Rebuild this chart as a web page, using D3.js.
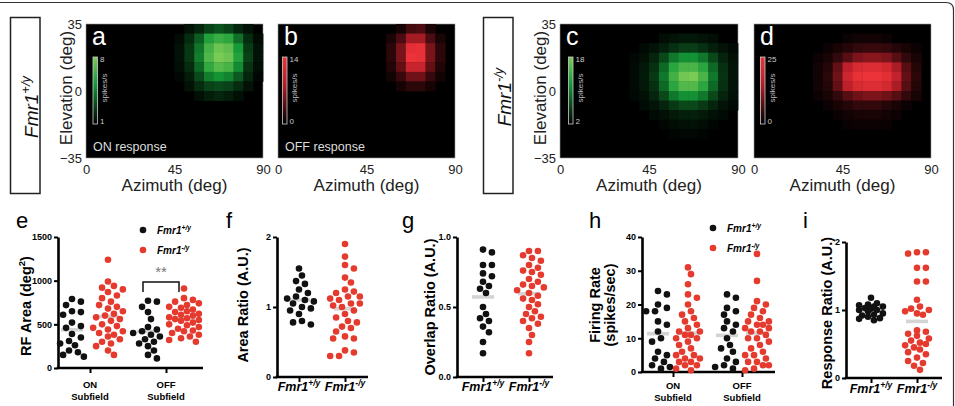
<!DOCTYPE html>
<html>
<head>
<meta charset="utf-8">
<script src="https://cdn.jsdelivr.net/npm/d3@7"></script>
<style>
  body { margin: 0; background: #fff; }
  svg { display: block; }
</style>
</head>
<body>
<svg id="fig" width="955" height="406"></svg>
<script>
// receptive field maps: 14 rows (elevation 35 -> -35), 18 cols (azimuth 0 -> 90)
// each row = [first column, values...]; missing cells sit at the colorbar minimum
const onWt = [
  [10, 1.5, 2, 2.8, 3.2, 2.8, 2, 1.5],
  [9, 1.3, 2.2, 3.5, 5.5, 6.2, 5.8, 4, 2.2, 1.3],
  [9, 1.5, 2.5, 4.2, 6.5, 7.6, 7.2, 5.2, 2.6, 1.5],
  [9, 1.5, 2.5, 4.4, 6.8, 8, 7.6, 5.6, 2.8, 1.5],
  [9, 1.4, 2.2, 3.8, 6, 7, 6.6, 4.8, 2.4, 1.4],
  [9, 1.2, 1.8, 3, 4.4, 5, 4.6, 3.4, 2, 1.2],
  [10, 1.5, 2.2, 2.8, 3, 2.8, 2.2, 1.5],
  [11, 1.4, 1.8, 2, 1.8, 1.4],
];
const offWt = [
  [12, 1, 3, 3.5, 1.2],
  [11, 1.2, 3.5, 7.5, 7.5, 3.5, 1.2],
  [11, 2, 5.5, 13, 13.5, 5.5, 2],
  [11, 2, 5.5, 14, 13.5, 5.5, 2],
  [11, 1.5, 4.5, 10, 10, 4.5, 1.5],
  [11, 0.8, 2.5, 5, 5, 2.5, 0.8],
  [12, 1, 2, 2, 1],
];
const onKo = [
  [],
  [10, 2.8, 3.2, 3.5, 3.5, 3.2, 2.8],
  [8, 2.6, 3.2, 4, 5, 5.8, 5.8, 5, 4, 3.2, 2.6],
  [7, 2.5, 3, 4.2, 6.5, 9.5, 11, 11, 9.5, 6.5, 4.2, 3],
  [7, 2.6, 3.5, 5, 8.5, 13, 15, 15, 13, 8.5, 5, 3.2],
  [7, 2.6, 3.6, 5.5, 9.5, 14.5, 17.5, 18, 15, 9.5, 5.2, 3.2],
  [7, 2.6, 3.5, 5, 8.5, 13, 15.5, 15.5, 13, 8.5, 5, 3.2],
  [7, 2.5, 3, 4.2, 6.5, 9.5, 11, 11, 9.5, 6.5, 4.2, 3],
  [8, 2.6, 3.2, 4.2, 5.5, 6.5, 6.5, 5.5, 4.2, 3.2, 2.6],
  [9, 2.6, 3, 3.6, 4, 4, 3.6, 3, 2.6],
  [10, 2.4, 2.8, 3, 3, 2.8, 2.4],
  [11, 2.3, 2.5, 2.5, 2.3],
];
const offKo = [
  [],
  [9, 1, 1.5, 1.5, 1.5, 1],
  [7, 1, 2, 3, 4, 4.5, 4.5, 4, 3, 2, 1],
  [6, 1, 2, 4, 7, 10, 11, 11, 10, 7, 4, 2],
  [6, 1.5, 3, 8, 16, 21, 22, 22, 20, 14, 7, 3],
  [6, 1.5, 3.5, 9, 19, 24, 25, 25, 23, 17, 8, 3.5],
  [6, 1.5, 3, 8, 16, 21, 22, 22, 20, 14, 7, 3],
  [6, 1, 2, 4, 7, 9, 10, 10, 9, 7, 4, 2],
  [7, 1, 2, 3, 4, 4, 4, 3, 2, 1],
  [8, 1, 1.5, 2, 2, 2, 1.5, 1],
  [9, 0.8, 1, 1, 1, 0.8],
];

// scatter data (one value per cell)
const rfOnWt = [790, 760, 720, 650, 640, 610, 520, 480, 460, 390, 350, 310, 280, 260, 200, 180, 150, 130];
const rfOnKo = [1240, 990, 940, 920, 900, 870, 830, 800, 760, 720, 700, 680, 650, 620, 600, 580, 560, 540, 500, 480, 460, 440, 420, 400, 380, 360, 330, 300, 280, 250, 200, 150];
const rfOffWt = [770, 760, 700, 640, 560, 470, 440, 420, 400, 380, 360, 330, 300, 280, 250, 200, 150, 110];
const rfOffKo = [910, 800, 780, 760, 740, 720, 700, 690, 670, 650, 640, 620, 610, 600, 580, 570, 560, 550, 540, 520, 500, 490, 470, 450, 430, 420, 400, 380, 360, 340, 320, 300];
const areaWt = [1.55, 1.45, 1.37, 1.33, 1.25, 1.2, 1.15, 1.12, 1.1, 1.08, 1.05, 1.0, 0.98, 0.95, 0.9, 0.8, 0.78, 0.75];
const areaKo = [1.9, 1.72, 1.6, 1.55, 1.42, 1.35, 1.25, 1.22, 1.2, 1.15, 1.15, 1.12, 1.1, 1.05, 1.05, 1.02, 1.0, 0.95, 0.9, 0.85, 0.8, 0.78, 0.72, 0.7, 0.65, 0.58, 0.55, 0.55, 0.38, 0.35, 0.3, 0.3];
const overlapWt = [0.91, 0.89, 0.8, 0.8, 0.74, 0.72, 0.68, 0.65, 0.63, 0.6, 0.5, 0.45, 0.42, 0.4, 0.36, 0.32, 0.25, 0.17];
const overlapKo = [0.9, 0.9, 0.87, 0.85, 0.83, 0.8, 0.78, 0.76, 0.75, 0.73, 0.7, 0.68, 0.66, 0.65, 0.64, 0.62, 0.6, 0.58, 0.56, 0.55, 0.52, 0.5, 0.47, 0.45, 0.43, 0.42, 0.4, 0.38, 0.35, 0.3, 0.25, 0.17];
const rateOnWt = [24, 23, 20, 19, 18, 18, 15, 14, 12, 10, 9, 6, 5, 4, 3, 2, 1.5, 1];
const rateOnKo = [31, 29, 26, 23, 22, 20, 18, 17, 16, 15, 14, 13, 12, 12, 11, 11, 10, 10, 9, 8, 7, 6, 5, 5, 4, 4, 3, 3, 2, 2, 1, 0.5];
const rateOffWt = [23, 22, 19, 18, 17, 15, 14, 13, 12, 10, 8, 7, 6, 4, 3, 2, 1.5, 1];
const rateOffKo = [35, 27, 21, 20, 19, 18, 17, 16, 15, 15, 14, 14, 13, 13, 12, 12, 11, 10, 10, 9, 8, 7, 6, 5, 5, 4, 3, 3, 2, 2, 1, 0.5];
const respWt = [1.18, 1.1, 1.08, 1.07, 1.05, 1.05, 1.03, 1.02, 1.0, 1.0, 0.98, 0.95, 0.93, 0.92, 0.9, 0.88, 0.87, 0.85];
const respKo = [1.85, 1.85, 1.83, 1.62, 1.62, 1.42, 1.42, 1.15, 1.05, 1.02, 1.0, 0.98, 0.95, 0.93, 0.7, 0.68, 0.65, 0.62, 0.58, 0.55, 0.52, 0.5, 0.48, 0.45, 0.42, 0.38, 0.35, 0.3, 0.25, 0.22, 0.18, 0.12];

const FONT = '"Liberation Sans", Arial, Helvetica, sans-serif';
const BLACK = '#111';
const RED = '#e53b2f';
const svg = d3.select('#fig').attr('font-family', FONT);

// outer frame and genotype boxes
svg.append('path')
  .attr('d', 'M0,2.5 H946 Q953.5,2.5 953.5,10 V406')
  .attr('fill', 'none').attr('stroke', '#333').attr('stroke-width', 1.2);

function geno(text, sup, size) {
  text.append('tspan').text('Fmr1');
  text.append('tspan').attr('font-size', size * 0.68).attr('dy', -size * 0.4).text(sup);
}

[[10.5, '+/y', 107], [483.5, '-/y', 97]].forEach(([bx, sup, cy]) => {
  svg.append('rect').attr('x', bx).attr('y', 17.5).attr('width', 29.5).attr('height', 176)
    .attr('fill', 'none').attr('stroke', '#222').attr('stroke-width', 1.5);
  const t = svg.append('text')
    .attr('transform', `translate(${bx + 27.5},${cy}) rotate(-90)`)
    .attr('text-anchor', 'middle').attr('font-style', 'italic').attr('font-size', 19).attr('fill', '#111');
  geno(t, sup, 19);
});

function expand(rows, min) {
  const grid = [];
  for (let r = 0; r < 14; r++) {
    const line = new Array(18).fill(min);
    const row = rows[r] || [];
    row.slice(1).forEach((v, i) => { line[row[0] + i] = v; });
    grid.push(line);
  }
  return grid;
}

function heatPanel(p) {
  const g = svg.append('g');
  const x = d3.scaleLinear().domain([0, 90]).range([p.x0, p.x1]);
  const y = d3.scaleLinear().domain([-35, 35]).range([158, 24]);
  const color = d3.scaleLinear()
    .domain([p.min, p.min + (p.max - p.min) * 0.6, p.max])
    .range(p.colors).clamp(true);

  g.append('rect').attr('x', x(0)).attr('y', y(35))
    .attr('width', x(90) - x(0)).attr('height', y(-35) - y(35))
    .attr('fill', '#000').attr('stroke', '#999').attr('stroke-width', 0.6);

  expand(p.rows, p.min).forEach((row, r) => row.forEach((v, c) => {
    if (v <= p.min) return;
    g.append('rect')
      .attr('x', x(c * 5)).attr('y', y(35 - r * 5))
      .attr('width', x(5) - x(0) + 0.4).attr('height', y(30) - y(35) + 0.4)
      .attr('fill', color(v));
  }));

  // colorbar
  const gid = `cb-${p.letter}`;
  const grad = svg.append('defs').append('linearGradient').attr('id', gid)
    .attr('x1', 0).attr('x2', 0).attr('y1', 1).attr('y2', 0);
  d3.range(0, 1.01, 0.1).forEach((t) => {
    grad.append('stop').attr('offset', t).attr('stop-color', color(p.min + t * (p.max - p.min)));
  });
  g.append('rect').attr('x', p.cbX).attr('y', 57).attr('width', 4.5).attr('height', 67)
    .attr('fill', `url(#${gid})`).attr('stroke', '#ccc').attr('stroke-width', 0.8);
  g.append('text').attr('x', p.cbX + 7).attr('y', 62).attr('font-size', 8).attr('fill', '#ccc').text(p.max);
  g.append('text').attr('x', p.cbX + 7).attr('y', 124).attr('font-size', 8).attr('fill', '#ccc').text(p.min);
  g.append('text').attr('transform', `translate(${p.cbX + 14},88) rotate(-90)`)
    .attr('text-anchor', 'middle').attr('font-size', 8).attr('fill', '#bbb').text('spikes/s');

  g.append('text').attr('x', x(0) + 6).attr('y', 45).attr('font-size', 25).attr('fill', '#fff').text(p.letter);
  if (p.caption) {
    g.append('text').attr('x', x(0) + 7).attr('y', 151).attr('font-size', 12.5).attr('fill', '#ddd').text(p.caption);
  }

  g.append('g').attr('transform', 'translate(0,158)')
    .call(d3.axisBottom(x).tickValues([0, 45, 90]).tickSize(0).tickPadding(7))
    .attr('font-family', FONT).attr('font-size', 13)
    .call((a) => a.select('.domain').remove())
    .selectAll('text').attr('fill', '#222');
  g.append('text').attr('x', (p.x0 + p.x1) / 2).attr('y', 191)
    .attr('text-anchor', 'middle').attr('font-size', 17).attr('fill', '#222').text('Azimuth (deg)');

  if (p.showY) {
    g.append('g').attr('transform', `translate(${p.x0},0)`)
      .call(d3.axisLeft(y).tickValues([-35, 0, 35]).tickSize(0).tickPadding(4))
      .attr('font-family', FONT).attr('font-size', 13)
      .call((a) => a.select('.domain').remove())
      .selectAll('text').attr('fill', '#222');
    g.append('text').attr('transform', `translate(${p.x0 - 14},88) rotate(-90)`)
      .attr('text-anchor', 'middle').attr('font-size', 17).attr('fill', '#222').text('Elevation (deg)');
  }
}

const greens = ['#000000', '#159a38', '#7acb56'];
const reds = ['#000000', '#b81e28', '#ec3339'];
heatPanel({ letter: 'a', rows: onWt, min: 1, max: 8, colors: greens, x0: 86, x1: 263, cbX: 93, showY: true, caption: 'ON response' });
heatPanel({ letter: 'b', rows: offWt, min: 0, max: 14, colors: reds, x0: 278, x1: 455, cbX: 282.5, caption: 'OFF response' });
heatPanel({ letter: 'c', rows: onKo, min: 2, max: 18, colors: greens, x0: 560, x1: 738, cbX: 568.5, showY: true });
heatPanel({ letter: 'd', rows: offKo, min: 0, max: 25, colors: reds, x0: 754, x1: 931, cbX: 760.5 });

// swarm: highest values first, each dot takes the nearest free slot within
// +-half px of the column centre; when the column is full it takes the least crowded slot
function swarm(values, y, cx, r, half) {
  const placed = [];
  const step = r * 0.9;
  const slots = [0];
  for (let k = 1; k * step <= half; k++) slots.push(k * step, -k * step);
  values.slice().sort((a, b) => b - a).forEach((v) => {
    const cy = y(v);
    let best = cx;
    let bestGap = -1;
    for (const s of slots) {
      const tx = cx + s;
      const gap = placed.length
        ? d3.min(placed, (d) => Math.hypot(d.x - tx, d.y - cy))
        : Infinity;
      if (gap >= 2 * r + 0.5) { best = tx; bestGap = gap; break; }
      if (gap > bestGap + 0.8) { best = tx; bestGap = gap; }
    }
    placed.push({ x: best, y: cy });
  });
  return placed;
}

function scatterPanel(p) {
  const g = svg.append('g');
  const y = d3.scaleLinear().domain(p.yDomain).range([p.yBottom, p.yTop]);
  const x = d3.scalePoint().domain(p.groups.map((d) => d.name)).range(p.centers);
  const r = 3.3;

  g.append('g').attr('transform', `translate(${p.axisX[0]},0)`)
    .call(d3.axisLeft(y).tickValues(p.ticks).tickSize(4).tickSizeOuter(0).tickPadding(2).tickFormat(p.fmt))
    .attr('font-family', FONT).attr('font-size', 9).attr('font-weight', 'bold')
    .call((a) => a.select('.domain').attr('stroke-width', 2.6))
    .call((a) => a.selectAll('.tick line').attr('stroke-width', 2));
  g.append('line').attr('x1', p.axisX[0] - 1.3).attr('x2', p.axisX[1])
    .attr('y1', p.yBottom).attr('y2', p.yBottom).attr('stroke', '#000').attr('stroke-width', 2.6);
  g.append('g').attr('transform', `translate(0,${p.yBottom})`)
    .call(d3.axisBottom(x).tickSize(5).tickFormat(''))
    .call((a) => a.select('.domain').remove())
    .call((a) => a.selectAll('.tick line').attr('stroke-width', 2));

  p.groups.forEach((grp) => {
    grp.series.forEach((s) => {
      const cx = x(grp.name) + s.dx;
      const m = d3.mean(s.values);
      g.append('rect').attr('x', cx - 11).attr('y', y(m) - 1.8).attr('width', 22).attr('height', 3.6).attr('fill', '#d4d4d4');
      g.selectAll(null).data(swarm(s.values, y, cx, r, p.half)).join('circle')
        .attr('cx', (d) => d.x).attr('cy', (d) => d.y).attr('r', r).attr('fill', s.color);
    });
    if (grp.lines) {
      grp.lines.forEach((ln, i) => {
        g.append('text').attr('x', x(grp.name)).attr('y', p.labelY + i * 12)
          .attr('text-anchor', 'middle').attr('font-size', 9.5).attr('font-weight', 'bold').text(ln);
      });
    } else {
      const t = g.append('text').attr('x', x(grp.name)).attr('y', p.labelY)
        .attr('text-anchor', 'middle').attr('font-size', 12.5).attr('font-weight', 'bold').attr('font-style', 'italic');
      geno(t, grp.sup, 12.5);
    }
  });

  const title = g.append('text').attr('transform', `translate(${p.titleX},${p.titleY}) rotate(-90)`)
    .attr('text-anchor', 'middle').attr('font-size', 14.5).attr('font-weight', 'bold');
  if (Array.isArray(p.title)) {
    p.title.forEach((ln, i) => title.append('tspan').attr('x', 0).attr('dy', i ? 15 : 0).text(ln));
  } else if (p.title === 'RF Area') {
    title.append('tspan').text('RF Area (deg');
    title.append('tspan').attr('font-size', 9.5).attr('dy', -6).text('2');
    title.append('tspan').attr('dy', 6).text(')');
  } else {
    title.text(p.title);
  }

  svg.append('text').attr('x', p.letterX).attr('y', 228).attr('font-size', 22).text(p.letter);
}

const fmtInt = d3.format('d');
const fmtOne = d3.format('.1f');
const wtKo = (a, b, off) => [
  { values: a, dx: -off, color: BLACK },
  { values: b, dx: off, color: RED },
];

scatterPanel({
  letter: 'e', letterX: 16, yDomain: [0, 1500], ticks: [0, 500, 1000, 1500], fmt: fmtInt,
  yBottom: 368, yTop: 237, axisX: [58, 203], centers: [90, 166], labelY: 388, half: 15,
  title: 'RF Area', titleX: 31, titleY: 306,
  groups: [
    { name: 'ON', lines: ['ON', 'Subfield'], series: wtKo(rfOnWt, rfOnKo, 18) },
    { name: 'OFF', lines: ['OFF', 'Subfield'], series: wtKo(rfOffWt, rfOffKo, 18) },
  ],
});
scatterPanel({
  letter: 'f', letterX: 226, yDomain: [0, 2], ticks: [0, 1, 2], fmt: fmtInt,
  yBottom: 377, yTop: 237, axisX: [277, 368], centers: [299, 345], labelY: 391, half: 15,
  title: 'Area Ratio (A.U.)', titleX: 248, titleY: 305,
  groups: [
    { name: 'wt', sup: '+/y', series: [{ values: areaWt, dx: 0, color: BLACK }] },
    { name: 'ko', sup: '-/y', series: [{ values: areaKo, dx: 0, color: RED }] },
  ],
});
scatterPanel({
  letter: 'g', letterX: 402, yDomain: [0, 1], ticks: [0, 0.5, 1], fmt: fmtOne,
  yBottom: 377, yTop: 237, axisX: [457, 553], centers: [483, 529], labelY: 391, half: 15,
  title: 'Overlap Ratio (A.U.)', titleX: 435, titleY: 307,
  groups: [
    { name: 'wt', sup: '+/y', series: [{ values: overlapWt, dx: 0, color: BLACK }] },
    { name: 'ko', sup: '-/y', series: [{ values: overlapKo, dx: 0, color: RED }] },
  ],
});
scatterPanel({
  letter: 'h', letterX: 589, yDomain: [0, 40], ticks: [0, 10, 20, 30, 40], fmt: fmtInt,
  yBottom: 372, yTop: 237, axisX: [642, 775], centers: [673, 742], labelY: 389, half: 12,
  title: ['Firing Rate', '(spikes/sec)'], titleX: 600, titleY: 305,
  groups: [
    { name: 'ON', lines: ['ON', 'Subfield'], series: wtKo(rateOnWt, rateOnKo, 15) },
    { name: 'OFF', lines: ['OFF', 'Subfield'], series: wtKo(rateOffWt, rateOffKo, 15) },
  ],
});
scatterPanel({
  letter: 'i', letterX: 803, yDomain: [0, 2], ticks: [0, 1, 2], fmt: fmtInt,
  yBottom: 378, yTop: 242, axisX: [846, 942], centers: [871, 917], labelY: 393, half: 13,
  title: 'Response Ratio (A.U.)', titleX: 832, titleY: 313,
  groups: [
    { name: 'wt', sup: '+/y', series: [{ values: respWt, dx: 0, color: BLACK }] },
    { name: 'ko', sup: '-/y', series: [{ values: respKo, dx: 0, color: RED }] },
  ],
});

// legends
[[143, 230, '+/y', BLACK], [143, 250, '-/y', RED], [713, 228, '+/y', BLACK], [713, 248, '-/y', RED]]
  .forEach(([lx, ly, sup, c]) => {
    svg.append('circle').attr('cx', lx).attr('cy', ly).attr('r', 3.3).attr('fill', c);
    const t = svg.append('text').attr('x', lx + 14).attr('y', ly + 3.5)
      .attr('font-size', 10).attr('font-weight', 'bold').attr('font-style', 'italic');
    geno(t, sup, 10);
  });

// significance bracket in e
svg.append('path').attr('d', 'M143,292 V282 H179 V292')
  .attr('fill', 'none').attr('stroke', '#111').attr('stroke-width', 1.5);
svg.append('text').attr('x', 161).attr('y', 277).attr('text-anchor', 'middle')
  .attr('font-size', 15).attr('fill', '#777').text('**');
</script>
</body>
</html>
